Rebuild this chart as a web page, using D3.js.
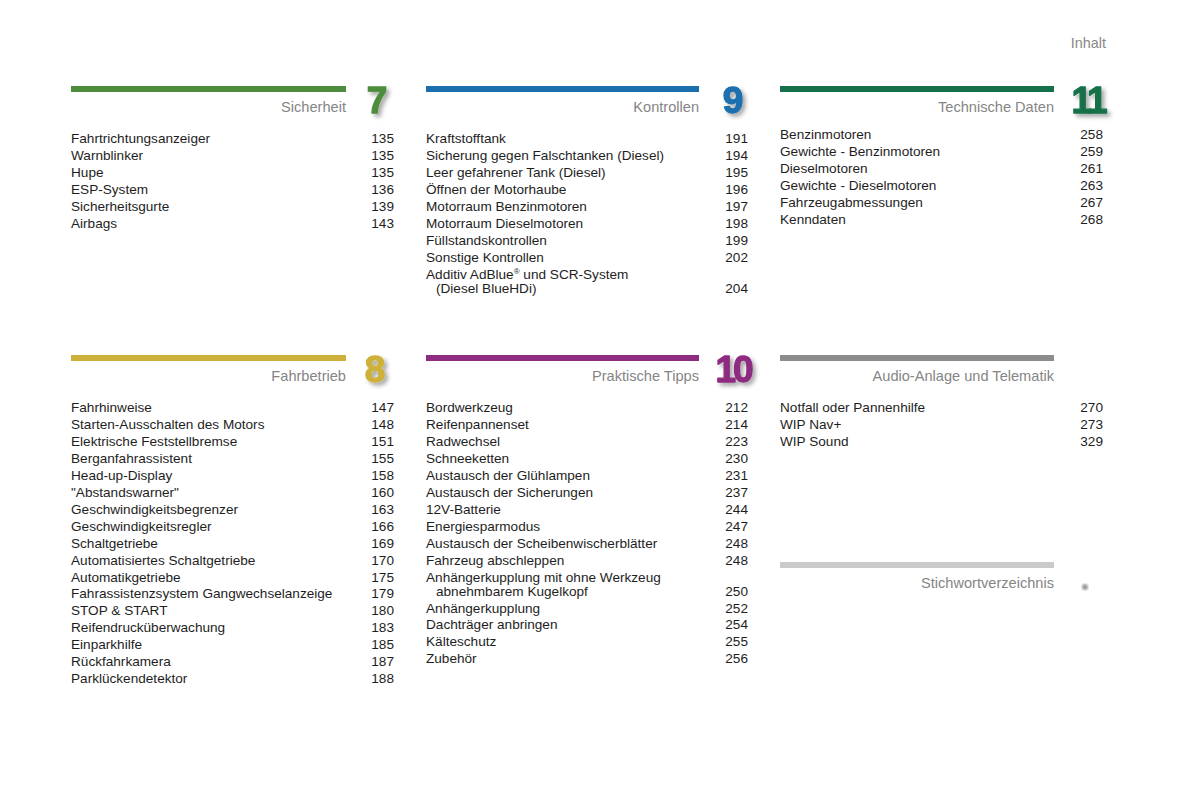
<!DOCTYPE html>
<html><head><meta charset="utf-8">
<script src="https://cdn.jsdelivr.net/npm/d3@7"></script>
<style>
html,body{margin:0;padding:0;background:#fff;}
svg{display:block;font-family:"Liberation Sans",Arial,Helvetica,sans-serif;}
</style></head>
<body>
<svg id="chart" width="1200" height="800"></svg>
<script>
// ---- data ----
const sectionTitles = ["Sicherheit","Kontrollen","Technische Daten","Fahrbetrieb","Praktische Tipps","Audio-Anlage und Telematik","Stichwortverzeichnis"];
const sectionNumbers = ["7","9","11","8","10","",""];
const sectionColors = ["#4d8d3d","#1b6fae","#16714a","#cdb13a","#8e2c80","#8c8c8c","#cacaca"];

const sicherheitItems = ["Fahrtrichtungsanzeiger","Warnblinker","Hupe","ESP-System","Sicherheitsgurte","Airbags"];
const sicherheitPages = ["135","135","135","136","139","143"];

const kontrollenItems = ["Kraftstofftank","Sicherung gegen Falschtanken (Diesel)","Leer gefahrener Tank (Diesel)","Öffnen der Motorhaube","Motorraum Benzinmotoren","Motorraum Dieselmotoren","Füllstandskontrollen","Sonstige Kontrollen","Additiv AdBlue® und SCR-System\n(Diesel BlueHDi)"];
const kontrollenPages = ["191","194","195","196","197","198","199","202","204"];

const technikItems = ["Benzinmotoren","Gewichte - Benzinmotoren","Dieselmotoren","Gewichte - Dieselmotoren","Fahrzeugabmessungen","Kenndaten"];
const technikPages = ["258","259","261","263","267","268"];

const fahrbetriebItems = ["Fahrhinweise","Starten-Ausschalten des Motors","Elektrische Feststellbremse","Berganfahrassistent","Head-up-Display","\"Abstandswarner\"","Geschwindigkeitsbegrenzer","Geschwindigkeitsregler","Schaltgetriebe","Automatisiertes Schaltgetriebe","Automatikgetriebe","Fahrassistenzsystem Gangwechselanzeige","STOP & START","Reifendrucküberwachung","Einparkhilfe","Rückfahrkamera","Parklückendetektor"];
const fahrbetriebPages = ["147","148","151","155","158","160","163","166","169","170","175","179","180","183","185","187","188"];

const tippsItems = ["Bordwerkzeug","Reifenpannenset","Radwechsel","Schneeketten","Austausch der Glühlampen","Austausch der Sicherungen","12V-Batterie","Energiesparmodus","Austausch der Scheibenwischerblätter","Fahrzeug abschleppen","Anhängerkupplung mit ohne Werkzeug\nabnehmbarem Kugelkopf","Anhängerkupplung","Dachträger anbringen","Kälteschutz","Zubehör"];
const tippsPages = ["212","214","223","230","231","237","244","247","248","248","250","252","254","255","256"];

const audioItems = ["Notfall oder Pannenhilfe","WIP Nav+","WIP Sound"];
const audioPages = ["270","273","329"];

const pageTitle = "Inhalt";

// ---- layout ----
const colLeft = [71, 426, 780];
const colBarEnd = [346, 699, 1054];
const colPageRight = [394, 748, 1103];
const rowBarTop = [86, 355];
const FS = 13.6;

const sections = [
  {t:0, col:0, row:0, items:sicherheitItems, pages:sicherheitPages, y0:143, nx:377},
  {t:1, col:1, row:0, items:kontrollenItems, pages:kontrollenPages, y0:143, nx:733},
  {t:2, col:2, row:0, items:technikItems, pages:technikPages, y0:139, nx:1088},
  {t:3, col:0, row:1, items:fahrbetriebItems, pages:fahrbetriebPages, y0:412, nx:375},
  {t:4, col:1, row:1, items:tippsItems, pages:tippsPages, y0:412, nx:733},
  {t:5, col:2, row:1, items:audioItems, pages:audioPages, y0:412, nx:null},
  {t:6, col:2, row:2, items:[], pages:[], y0:0, nx:null, barTop:562}
];

const svg = d3.select("#chart");
const defs = svg.append("defs");
const f = defs.append("filter").attr("id","shadow").attr("x","-30%").attr("y","-30%").attr("width","180%").attr("height","180%");
f.append("feDropShadow").attr("dx",3).attr("dy",3).attr("stdDeviation",2).attr("flood-color","#000").attr("flood-opacity",0.35);
const blur = defs.append("filter").attr("id","blur");
blur.append("feGaussianBlur").attr("stdDeviation",1.2);

svg.append("text").attr("x",1106).attr("y",48).attr("text-anchor","end")
  .attr("font-size",14.4).attr("fill","#888").text(pageTitle);

const step = 16.95;

sections.forEach(s => {
  const barTop = s.barTop !== undefined ? s.barTop : rowBarTop[s.row];
  const g = svg.append("g");
  const color = sectionColors[s.t];
  g.append("rect").attr("x", colLeft[s.col]).attr("y", barTop)
    .attr("width", colBarEnd[s.col] - colLeft[s.col]).attr("height", 6).attr("fill", color);
  g.append("text").attr("x", colBarEnd[s.col]).attr("y", barTop + 26)
    .attr("text-anchor","end").attr("font-size",14.6).attr("fill","#858585")
    .text(sectionTitles[s.t]);
  const num = sectionNumbers[s.t];
  if (num && s.nx) {
    g.append("text").attr("x", s.nx).attr("y", barTop + 27)
      .attr("text-anchor","middle").attr("font-size",37).attr("font-weight","bold")
      .attr("letter-spacing", num.length > 1 ? -3 : 0)
      .attr("stroke", color).attr("stroke-width",1.3).attr("stroke-linejoin","round")
      .attr("fill", color).attr("filter","url(#shadow)").text(num);
  }
  if (s.t === 6) {
    g.append("circle").attr("cx",1085).attr("cy",587).attr("r",3)
      .attr("fill","#9a9a9a").attr("filter","url(#blur)");
  }
  const units = [];
  let u = 0;
  s.items.forEach(it => { units.push(u); u += it.includes("\n") ? 1.83 : 1; });
  const y = d3.scaleLinear().domain([0,1]).range([s.y0, s.y0 + step]);
  const entries = s.items.map((it,i)=>({label:it, page:s.pages[i], u:units[i]}));
  const eg = g.selectAll("g.entry").data(entries).join("g").attr("class","entry");
  eg.each(function(d){
    const sel = d3.select(this);
    const lines = d.label.split("\n");
    lines.forEach((ln, li) => {
      const t = sel.append("text").attr("x", colLeft[s.col] + (li > 0 ? 10 : 0))
        .attr("y", y(d.u) + li*14.7).attr("font-size",FS).attr("fill","#1e1e1e");
      const parts = ln.split("®");
      parts.forEach((p, pi) => {
        const ts = t.append("tspan").text(p);
        if (pi > 0) ts.attr("dy", 5);
        if (pi < parts.length - 1) {
          t.append("tspan").attr("font-size",8).attr("dy",-5).text("®");
        }
      });
    });
    sel.append("text").attr("x", colPageRight[s.col])
      .attr("y", y(d.u) + (lines.length-1)*14.7)
      .attr("text-anchor","end").attr("font-size",FS).attr("fill","#1e1e1e").text(d.page);
  });
});
</script>
</body></html>
